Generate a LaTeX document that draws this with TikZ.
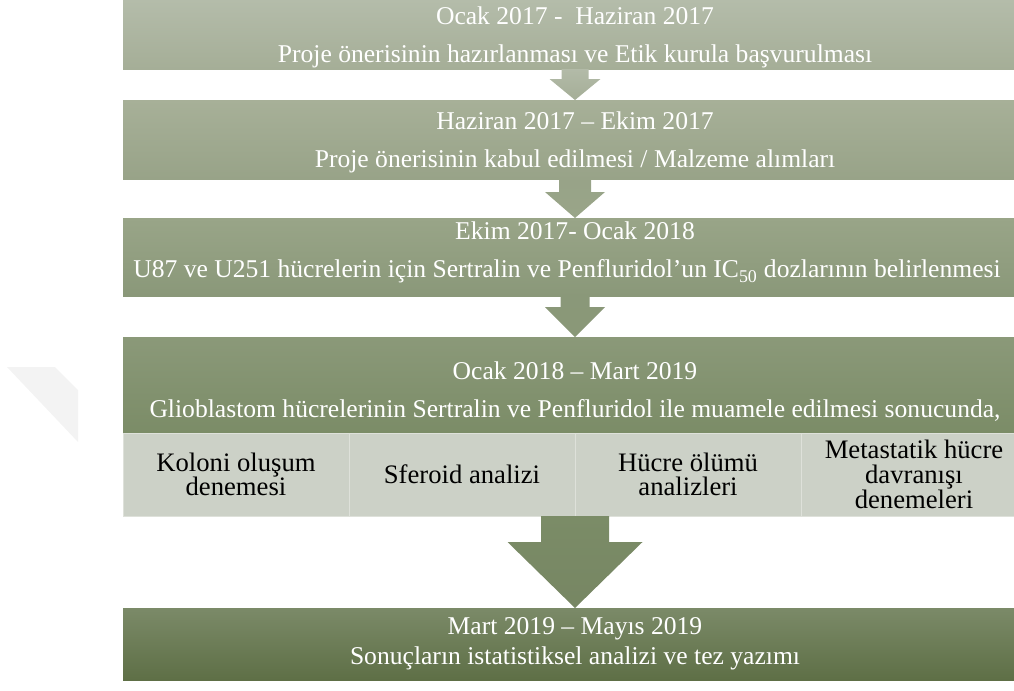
\documentclass[tikz,border=0pt]{standalone}
\usepackage{fontspec}
\setmainfont{Liberation Serif}
\usetikzlibrary{positioning,calc}

\definecolor{btopA}{HTML}{B4BCAA}
\definecolor{bbotA}{HTML}{A5AE97}
\definecolor{btopB}{HTML}{A7B098}
\definecolor{bbotB}{HTML}{98A388}
\definecolor{btopC}{HTML}{99A588}
\definecolor{bbotC}{HTML}{8A9879}
\definecolor{btopD}{HTML}{8B9979}
\definecolor{bbotD}{HTML}{7B8C67}
\definecolor{btopE}{HTML}{7B8A68}
\definecolor{bbotE}{HTML}{5E6F46}
\definecolor{cellgrey}{HTML}{CCD1C7}
\definecolor{celledge}{HTML}{DEE1DA}
\definecolor{markgrey}{HTML}{F3F3F3}

\tikzset{
  stage/.style={minimum width=678pt, inner sep=0pt, outer sep=0pt, align=center,
    text=white, font=\fontsize{19.2}{28.5}\selectfont},
  cell/.style={minimum width=169.5pt, minimum height=62.25pt, inner sep=0pt, outer sep=0pt,
    align=center, fill=cellgrey, draw=celledge, line width=0.6pt,
    font=\fontsize{20}{18.5}\selectfont},
}

\begin{document}
\begin{tikzpicture}[x=0.75pt,y=-0.75pt]
\clip (0,0) rectangle (1014,690);
% faint mark on the left
\fill[markgrey] (7,367) -- (55,367) -- (78,390) -- (78,442) -- cycle;

% stages
\node[stage, minimum height=51.75pt, top color=btopA, bottom color=bbotA] (b1) at (575,34.5)
  {\\[-11pt]Ocak 2017 -\ \ Haziran 2017\\Proje önerisinin hazırlanması ve Etik kurula başvurulması};
\node[stage, minimum height=59.25pt, top color=btopB, bottom color=bbotB] (b2) at (575,139.5)
  {\\[-10.5pt]Haziran 2017 – Ekim 2017\\Proje önerisinin kabul edilmesi / Malzeme alımları};
\node[stage, minimum height=58.5pt, top color=btopC, bottom color=bbotC] (b3) at (575,257)
  {Ekim 2017- Ocak 2018\\U87 ve U251 hücrelerin için Sertralin ve Penfluridol’un IC\textsubscript{50} dozlarının belirlenmesi\rule{12pt}{0pt}\\[-18pt]};
\node[stage, minimum height=72pt, top color=btopD, bottom color=bbotD] (b4) at (575,385)
  {\\[-6pt]Ocak 2018 – Mart 2019\\Glioblastom hücrelerinin Sertralin ve Penfluridol ile muamele edilmesi sonucunda,};
\node[cell, anchor=north west] (c1) at (b4.south west) {Koloni oluşum\\denemesi};
\node[cell, right=0pt of c1] (c2) {Sferoid analizi};
\node[cell, right=0pt of c2] (c3) {Hücre ölümü\\analizleri};
\node[cell, right=0pt of c3] (c4) {Metastatik hücre\\davranışı\\denemeleri};
\node[stage, minimum height=54pt, top color=btopE, bottom color=bbotE,
  font=\fontsize{19.2}{22.5}\selectfont] (b5) at (575,644)
  {Mart 2019 – Mayıs 2019\\Sonuçların istatistiksel analizi ve tez yazımı};

% arrows
\shade[top color=btopA!90!bbotA, bottom color=bbotA] ($(b1.south)+(-13.5,0)$) -- ++(0,10) -- ++(-12,0)
  -- (b2.north) -- ($(b1.south)+(25.5,10)$) -- ++(-12,0) -- ($(b1.south)+(13.5,0)$) -- cycle;
\shade[top color=bbotB, bottom color=btopC] ($(b2.south)+(-16,0)$) -- ++(0,13) -- ++(-14,0)
  -- (b3.north) -- ($(b2.south)+(30,13)$) -- ++(-14,0) -- ($(b2.south)+(16,0)$) -- cycle;
\shade[top color=bbotC, bottom color=btopD!90!bbotD] ($(b3.south)+(-14.5,0)$) -- ++(0,11) -- ++(-15.5,0)
  -- (b4.north) -- ($(b3.south)+(30,11)$) -- ++(-15.5,0) -- ($(b3.south)+(14.5,0)$) -- cycle;
\shade[top color=bbotD, bottom color=btopE!85!bbotE] ($(c2.south east)+(-34,0)$) -- ++(0,26) -- ++(-33.5,0)
  -- (b5.north) -- ($(c2.south east)+(67.5,26)$) -- ++(-33.5,0) -- ($(c2.south east)+(34,0)$) -- cycle;
\end{tikzpicture}
\end{document}
